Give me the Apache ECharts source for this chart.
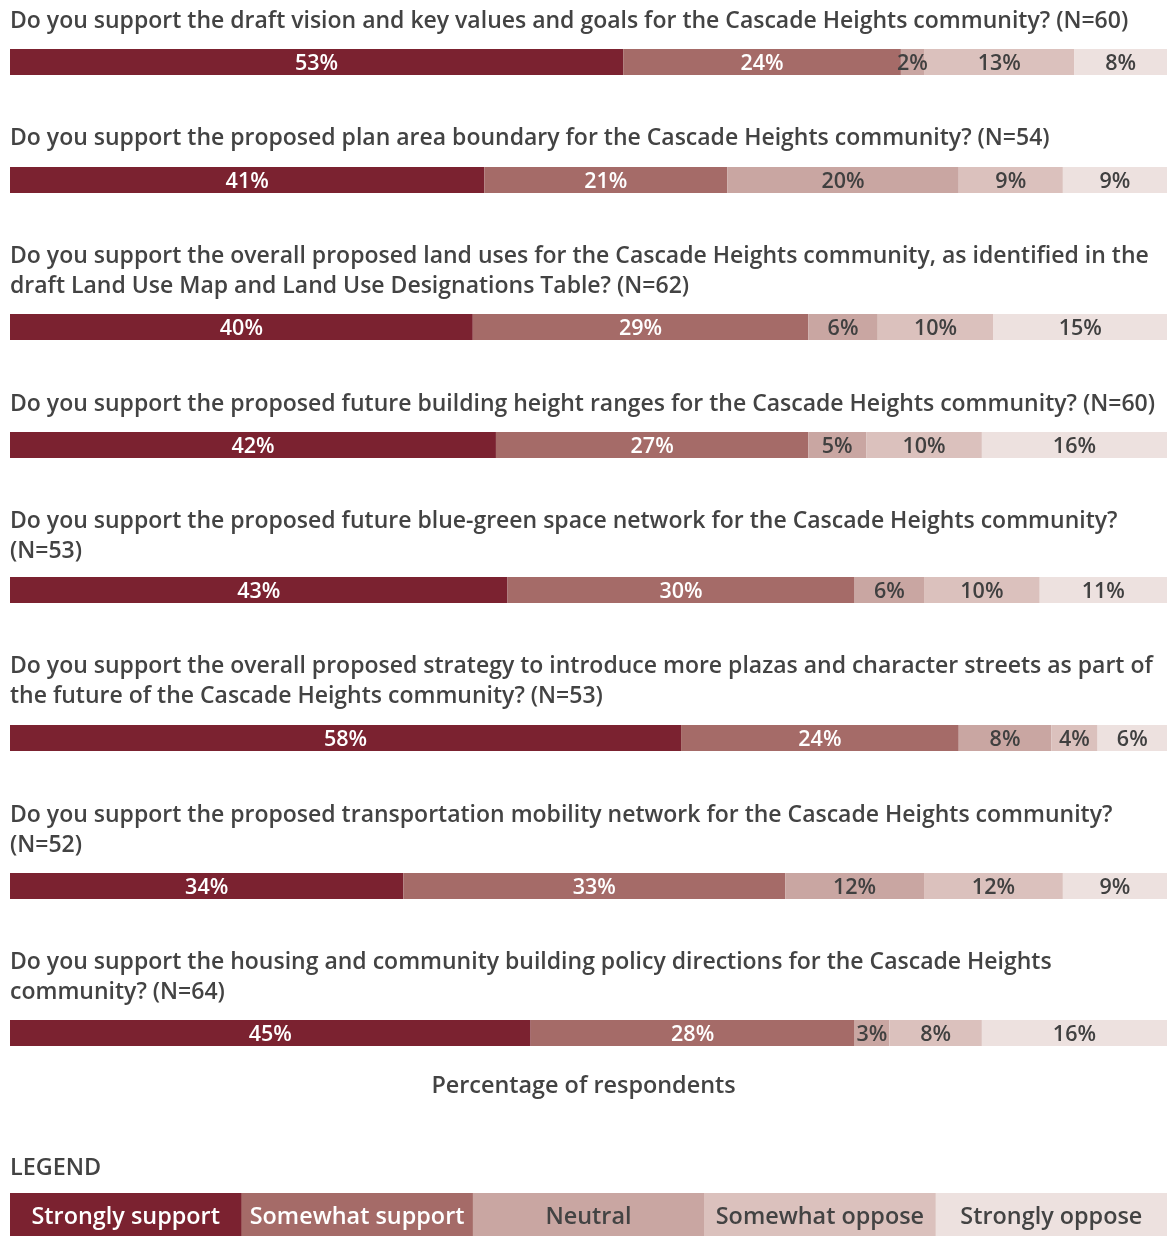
<!DOCTYPE html>
<html>
<head>
<meta charset="utf-8">
<script src="https://cdn.jsdelivr.net/npm/echarts@6/dist/echarts.min.js"></script>
<style>
  html, body { margin: 0; padding: 0; background: #fff; }
  #chart { width: 1167px; height: 1236px; }
</style>
</head>
<body>
<div id="chart"></div>
<script>
// Response categories, in stacking order
const categories = ['Strongly support', 'Somewhat support', 'Neutral', 'Somewhat oppose', 'Strongly oppose'];

// Survey questions (line breaks where the question wraps)
const questions = [
  'Do you support the draft vision and key values and goals for the Cascade Heights community? (N=60)',
  'Do you support the proposed plan area boundary for the Cascade Heights community? (N=54)',
  'Do you support the overall proposed land uses for the Cascade Heights community, as identified in the\ndraft Land Use Map and Land Use Designations Table? (N=62)',
  'Do you support the proposed future building height ranges for the Cascade Heights community? (N=60)',
  'Do you support the proposed future blue-green space network for the Cascade Heights community?\n(N=53)',
  'Do you support the overall proposed strategy to introduce more plazas and character streets as part of\nthe future of the Cascade Heights community? (N=53)',
  'Do you support the proposed transportation mobility network for the Cascade Heights community?\n(N=52)',
  'Do you support the housing and community building policy directions for the Cascade Heights\ncommunity? (N=64)'
];

// Percentage of respondents per category, one entry per question
const stronglySupport = [53, 41, 40, 42, 43, 58, 34, 45];
const somewhatSupport = [24, 21, 29, 27, 30, 24, 33, 28];
const neutral         = [2, 20, 6, 5, 6, 8, 12, 3];
const somewhatOppose  = [13, 9, 10, 10, 10, 4, 12, 8];
const stronglyOppose  = [8, 9, 15, 16, 11, 6, 9, 16];

const seriesValues = [stronglySupport, somewhatSupport, neutral, somewhatOppose, stronglyOppose];

const colors = ['#7b2230', '#a56b68', '#c9a6a2', '#dbc1bd', '#ede1df'];
const labelColors = ['#ffffff', '#ffffff', '#404040', '#404040', '#404040'];

const FONT = '"Open Sans", "Noto Sans", sans-serif';
const TEXT = '#434343';

// Layout of each question block
const barTops = [49, 167, 314, 432, 577, 725, 873, 1020];
const titleTops = [6, 123, 241, 389, 506, 651, 800, 947];
const barHeight = 26;
const chartLeft = 10;
const chartWidth = 1157;

const grids = [], xAxes = [], yAxes = [], series = [], titles = [];

questions.forEach((q, i) => {
  titles.push({
    text: q,
    left: chartLeft,
    top: titleTops[i],
    padding: 0,
    textStyle: { fontFamily: FONT, fontSize: 23, fontWeight: 600, color: TEXT, lineHeight: 30 }
  });
  grids.push({ left: chartLeft, width: chartWidth, top: barTops[i], height: barHeight, containLabel: false });
  xAxes.push({
    gridIndex: i, type: 'value', min: 0, max: 100,
    show: false
  });
  yAxes.push({
    gridIndex: i, type: 'category', data: ['Q' + (i + 1)],
    show: false
  });
  categories.forEach((name, k) => {
    series.push({
      name: name,
      type: 'bar',
      xAxisIndex: i,
      yAxisIndex: i,
      stack: 'q' + i,
      barWidth: '100%',
      barCategoryGap: 0,
      itemStyle: { color: colors[k] },
      label: {
        show: true,
        position: 'inside',
        offset: [0, 1.5],
        formatter: '{c}%',
        color: labelColors[k],
        fontFamily: FONT,
        fontSize: 21.5,
        fontWeight: 600
      },
      silent: true,
      data: [seriesValues[k][i]]
    });
  });
});

// Axis caption and category key drawn below the bars
const graphic = [
  {
    type: 'text', left: 'center', top: 1075,
    style: { text: 'Percentage of respondents', font: '600 23.4px ' + FONT, fill: TEXT }
  },
  {
    type: 'text', left: chartLeft, top: 1157,
    style: { text: 'LEGEND', font: '600 23.4px ' + FONT, fill: TEXT }
  }
];
const keyW = chartWidth / categories.length;
categories.forEach((name, k) => {
  graphic.push({
    type: 'group',
    left: chartLeft + k * keyW,
    top: 1193,
    children: [
      { type: 'rect', shape: { x: 0, y: 0, width: keyW + 0.5, height: 43 }, style: { fill: colors[k] } },
      {
        type: 'text', x: keyW / 2, y: 24,
        style: {
          text: name, font: '600 23.4px ' + FONT,
          fill: k < 2 ? '#ffffff' : TEXT,
          textAlign: 'center', textVerticalAlign: 'middle'
        }
      }
    ]
  });
});

const chart = echarts.init(document.getElementById('chart'), null, { renderer: 'canvas' });
chart.setOption({
  animation: false,
  backgroundColor: '#ffffff',
  title: titles,
  grid: grids,
  xAxis: xAxes,
  yAxis: yAxes,
  series: series,
  graphic: graphic
});
</script>
</body>
</html>
